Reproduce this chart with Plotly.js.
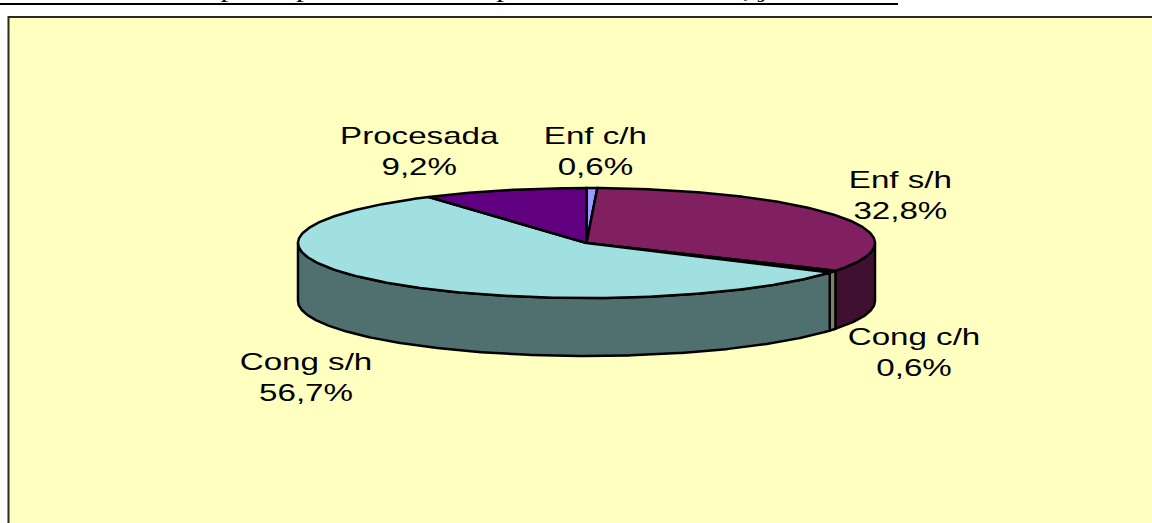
<!DOCTYPE html>
<html>
<head>
<meta charset="utf-8">
<script src="https://cdn.plot.ly/plotly-3.0.1.min.js"></script>
<style>html,body{margin:0;padding:0;background:#fff;overflow:hidden}</style>
</head>
<body>
<div id="chart" style="width:1152px;height:523px"></div>
<script>
// Data
const categories = ["Enf c/h", "Enf s/h", "Cong c/h", "Cong s/h", "Procesada"];
const shares = [0.6, 32.8, 0.6, 56.7, 9.2];
const valueLabels = ["0,6%", "32,8%", "0,6%", "56,7%", "9,2%"];
const topColors = ["#9999FF", "#802060", "#FFFFCC", "#A0E0E0", "#600080"];
const sideColors = ["#4C4C80", "#3F1030", "#808066", "#507070", "#300040"];
const titleText = "Gráfico N° 4: Mapa de productos de exportación en el mes, junio 2004";

// Pie projection, in axis units (axes map 1:1 to the frame)
const cx = 586.5, cy = 243, rx = 288.5, ry = 55, depth = 58;
const px = a => cx + rx * Math.sin(a);
const py = a => cy - ry * Math.cos(a);
const total = shares.reduce((s, v) => s + v, 0);

let acc = 0;
const slices = shares.map((v, i) => {
  const a0 = acc / total * 2 * Math.PI;
  acc += v;
  return {i, a0, a1: acc / total * 2 * Math.PI};
});
function arc(a0, a1) {
  const n = Math.max(2, Math.ceil((a1 - a0) / 0.01));
  const out = [];
  for (let k = 0; k <= n; k++) out.push(a0 + (a1 - a0) * k / n);
  return out;
}
const outline = {color: "#000", width: 2.5};
const traces = [];
// Side walls: only the front half of the cylinder is visible
slices.forEach(s => {
  const a0 = Math.max(s.a0, Math.PI / 2), a1 = Math.min(s.a1, 1.5 * Math.PI);
  if (a1 <= a0) return;
  const as = arc(a0, a1);
  const x = as.map(px).concat(as.slice().reverse().map(px));
  const y = as.map(py).concat(as.slice().reverse().map(a => py(a) + depth));
  x.push(x[0]); y.push(y[0]);
  traces.push({type: "scatter", mode: "lines", x, y, fill: "toself",
    fillcolor: sideColors[s.i], line: outline, hoverinfo: "skip", showlegend: false});
});
// Top face
slices.forEach(s => {
  const as = arc(s.a0, s.a1);
  const x = [cx].concat(as.map(px), [cx]);
  const y = [cy].concat(as.map(py), [cy]);
  traces.push({type: "scatter", mode: "lines", x, y, fill: "toself",
    fillcolor: topColors[s.i], line: outline, hoveron: "fills",
    text: categories[s.i] + " " + valueLabels[s.i], hoverinfo: "text", showlegend: false});
});

const labelPos = [[595, 151], [900, 195], [914, 352], [306, 377], [419, 151]];
const annotations = categories.map((c, i) => ({
  xref: "x", yref: "y", x: labelPos[i][0], y: labelPos[i][1],
  text: c + "<br>" + valueLabels[i], showarrow: false, xanchor: "center", yanchor: "middle",
  align: "center", font: {family: "Liberation Sans, Arial, sans-serif", size: 24, color: "#000"}
}));
annotations.push({
  xref: "x", yref: "y", x: 0, y: 3, text: titleText, showarrow: false,
  xanchor: "left", yanchor: "bottom", yshift: 1, xshift: -2, borderpad: 0, borderwidth: 0,
  font: {family: "Liberation Serif, Times New Roman, serif", size: 18.7, color: "#000"}
});

const layout = {
  width: 1152, height: 523,
  margin: {l: 0, r: 0, t: 0, b: 0},
  paper_bgcolor: "#fff", plot_bgcolor: "rgba(0,0,0,0)",
  xaxis: {range: [0, 1152], visible: false, fixedrange: true},
  yaxis: {range: [523, 0], visible: false, fixedrange: true},
  shapes: [
    {type: "rect", layer: "below", xref: "x", yref: "y", x0: 8.5, y0: 17, x1: 1170, y1: 540,
      fillcolor: "#FFFFC0", line: {color: "#2b2b20", width: 2}},
    {type: "line", layer: "above", xref: "x", yref: "y", x0: 0, y0: 4, x1: 898, y1: 4,
      line: {color: "#000", width: 2}}
  ],
  annotations,
  showlegend: false
};

Plotly.newPlot("chart", traces, layout, {displayModeBar: false}).then(() => {
  // The reference's texts are stretched horizontally
  document.querySelectorAll(".annotation-text").forEach((t, i) => {
    const b = t.getBBox();
    if (i < categories.length) {
      const c = b.x + b.width / 2;
      t.setAttribute("transform", `translate(${c},0) scale(1.38,1) translate(${-c},0)`);
    } else {
      const s = 898 / b.width;
      t.setAttribute("transform", `translate(${b.x},0) scale(${s},1) translate(${-b.x},0)`);
    }
  });
});
</script>
</body>
</html>
